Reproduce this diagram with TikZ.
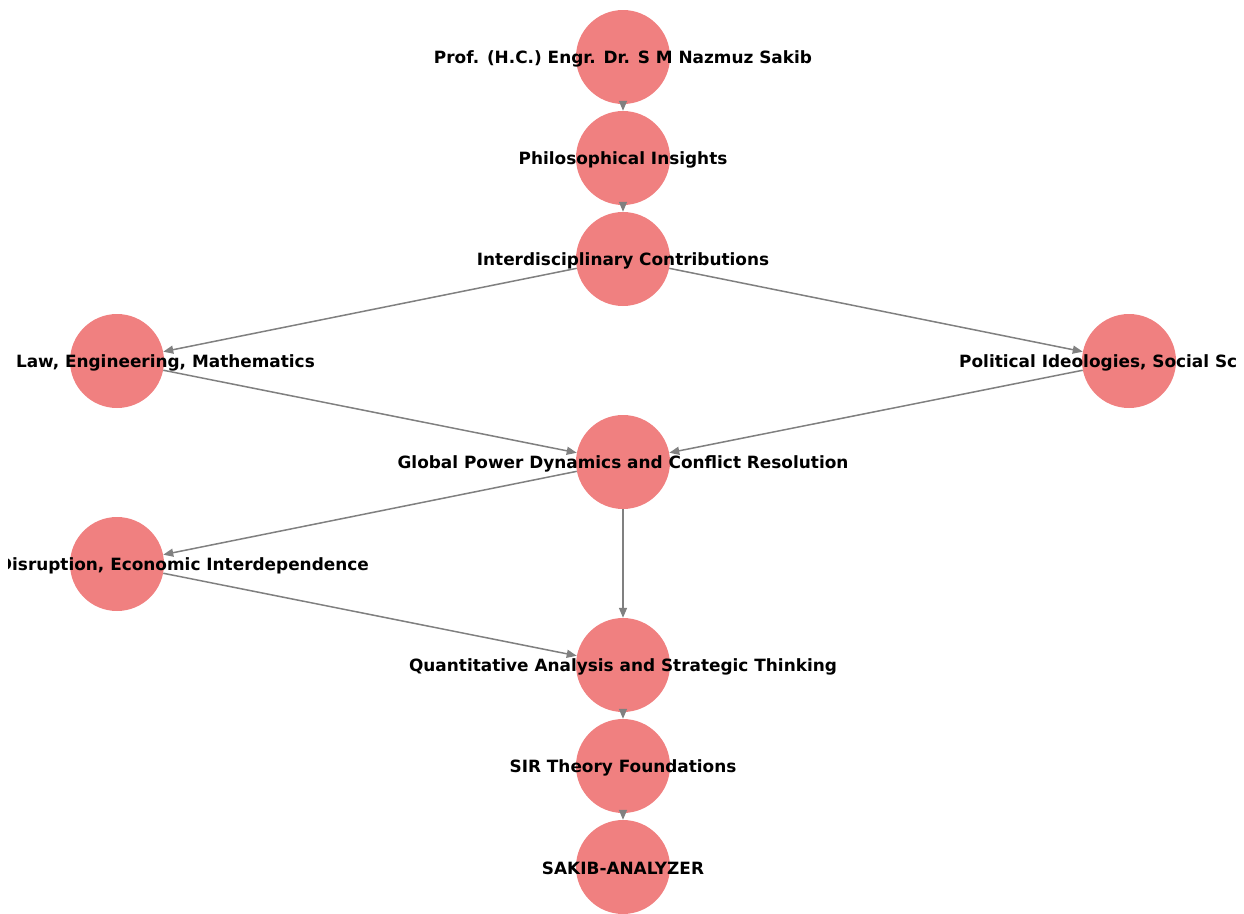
\documentclass[tikz,border=0pt]{standalone}
\usepackage{fontspec}
\setmainfont{DejaVu Sans}
\usetikzlibrary{arrows.meta}
\definecolor{nodefill}{HTML}{F08080}
\definecolor{edgegray}{HTML}{808080}
\tikzset{
  vertex/.style={circle, fill=nodefill, draw=none, minimum size=94pt, inner sep=0pt},
  caption/.style={font=\bfseries\fontsize{16.9}{19}\selectfont, text=black, inner sep=0pt, yshift=-1.5pt},
  link/.style={draw=edgegray, line width=1.5pt, -{Stealth[length=10pt,width=8pt,inset=0pt]}},
}
\begin{document}
\begin{tikzpicture}[x=1pt, y=-1pt]
  \useasboundingbox (0,0) rectangle (1244,913);
  % vertices
  \node[vertex] (prof) at (623,57) {};
  \node[vertex] (phil) at (623,158) {};
  \node[vertex] (inter) at (623,259) {};
  \node[vertex] (law) at (117,361) {};
  \node[vertex] (pol) at (1129,361) {};
  \node[vertex] (glob) at (623,462) {};
  \node[vertex] (supp) at (117,564) {};
  \node[vertex] (quant) at (623,665) {};
  \node[vertex] (sir) at (623,766) {};
  \node[vertex] (sakib) at (623,867) {};
  % directed links
  \path[link] (prof) -- (phil);
  \path[link] (phil) -- (inter);
  \path[link] (inter) -- (law);
  \path[link] (inter) -- (pol);
  \path[link] (law) -- (glob);
  \path[link] (pol) -- (glob);
  \path[link] (glob) -- (supp);
  \path[link] (glob) -- (quant);
  \path[link] (supp) -- (quant);
  \path[link] (quant) -- (sir);
  \path[link] (sir) -- (sakib);
  % labels, cut off at the drawing edge
  \begin{scope}
    \clip (8,0) rectangle (1236,913);
    \node[caption] (prof-t) at (prof) {Prof. (H.C.) Engr. Dr. S M Nazmuz Sakib};
    \node[caption] (phil-t) at (phil) {Philosophical Insights};
    \node[caption] (inter-t) at (inter) {Interdisciplinary Contributions};
    \node[caption, anchor=east] (law-t) at (315,361) {Law, Engineering, Mathematics};
    \node[caption, anchor=west] (pol-t) at (959,361) {Political Ideologies, Social Sciences};
    \node[caption] (glob-t) at (glob) {Global Power Dynamics and Conflict Resolution};
    \node[caption, anchor=east] (supp-t) at (369,564) {Supply Chain Disruption, Economic Interdependence};
    \node[caption] (quant-t) at (quant) {Quantitative Analysis and Strategic Thinking};
    \node[caption] (sir-t) at (sir) {SIR Theory Foundations};
    \node[caption] (sakib-t) at (sakib) {SAKIB-ANALYZER};
  \end{scope}
\end{tikzpicture}
\end{document}
